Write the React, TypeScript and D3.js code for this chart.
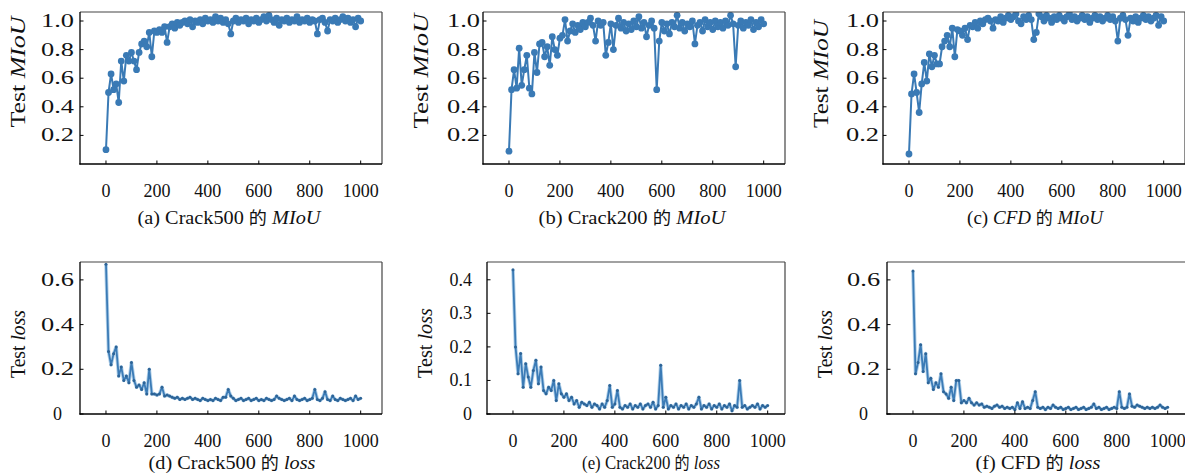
import { useEffect, useRef } from 'react';
import * as d3 from 'd3';

const EPOCH_STEP = 10;
const X_TICKS = [0, 200, 400, 600, 800, 1000];
const MIOU_TICKS = [0.2, 0.4, 0.6, 0.8, 1.0];
const LOSS_TICKS = [0, 0.2, 0.4, 0.6];
const LOSS_TICKS_200 = [0, 0.1, 0.2, 0.3, 0.4];

// test MIoU, one value every 10 epochs (0..1000)
const MIOU_CRACK500 = [
  0.10, 0.50, 0.63, 0.52, 0.56, 0.43, 0.72, 0.58, 0.76, 0.72,
  0.78, 0.72, 0.66, 0.78, 0.84, 0.86, 0.82, 0.92, 0.75, 0.93,
  0.92, 0.94, 0.92, 0.96, 0.85, 0.96, 0.98, 0.95, 0.99, 0.97,
  0.99, 1.00, 0.98, 1.01, 0.96, 1.00, 0.99, 1.01, 0.98, 1.02,
  1.00, 1.01, 0.99, 1.03, 1.00, 1.02, 0.99, 1.01, 0.98, 0.91,
  1.00, 1.02, 0.99, 1.01, 1.00, 1.02, 0.98, 1.01, 1.00, 1.02,
  0.99, 1.01, 1.03, 1.00, 1.04, 1.01, 0.99, 1.02, 0.97, 1.01,
  1.00, 1.02, 0.99, 1.01, 1.00, 1.03, 0.99, 1.01, 1.00, 1.02,
  0.99, 1.01, 1.00, 0.91, 1.01, 1.02, 0.99, 0.93, 1.01, 1.00,
  1.02, 0.99, 1.01, 1.03, 1.00, 1.02, 0.99, 1.01, 0.96, 1.02,
  1.00,
];

const MIOU_CRACK200 = [
  0.09, 0.52, 0.66, 0.53, 0.81, 0.55, 0.66, 0.76, 0.53, 0.49,
  0.78, 0.64, 0.84, 0.85, 0.75, 0.82, 0.69, 0.89, 0.80, 0.76,
  0.88, 0.90, 1.01, 0.86, 0.93, 0.98, 0.92, 0.97, 0.94, 0.99,
  0.96, 0.99, 1.02, 0.97, 0.86, 1.00, 0.97, 0.99, 0.76, 0.85,
  0.98, 0.80, 0.97, 1.02, 0.95, 0.99, 0.93, 0.98, 0.94, 1.00,
  0.96, 1.03, 0.95, 0.99, 0.89, 0.97, 1.00, 0.95, 0.52, 0.86,
  0.99, 0.93, 0.98, 0.91, 0.99, 0.96, 1.04, 0.95, 0.99, 0.93,
  0.98, 0.96, 1.00, 0.84, 0.97, 0.99, 0.93, 1.01, 0.96, 0.99,
  0.94, 1.00, 0.96, 0.99, 0.95, 1.00, 0.97, 1.04, 0.98, 0.68,
  0.97, 1.00, 0.95, 0.99, 0.97, 1.01, 0.94, 0.99, 0.96, 1.01,
  0.98,
];

const MIOU_CFD = [
  0.07, 0.49, 0.63, 0.50, 0.36, 0.56, 0.71, 0.58, 0.77, 0.68,
  0.76, 0.70, 0.70, 0.82, 0.86, 0.90, 0.82, 0.95, 0.75, 0.94,
  0.93, 0.90, 0.95, 0.87, 0.97, 0.96, 0.99, 0.95, 1.00, 0.98,
  1.01, 1.02, 1.00, 0.95, 1.01, 1.00, 1.03, 0.99, 1.02, 1.04,
  1.01, 1.03, 1.05, 1.00, 0.98, 1.03, 1.01, 1.04, 1.01, 0.87,
  0.92, 1.05, 1.03, 1.00, 1.04, 1.02, 0.99, 1.03, 1.01, 1.04,
  1.02, 1.00, 1.03, 1.05, 1.01, 1.03, 1.00, 1.02, 1.04, 1.01,
  1.03, 0.99, 1.02, 1.04, 1.01, 1.03, 1.00, 1.02, 1.04, 1.01,
  1.03, 1.00, 0.86, 1.02, 1.04, 1.01, 0.90, 1.02, 1.00, 1.03,
  0.99, 1.02, 1.04, 1.01, 1.03, 1.00, 1.02, 1.04, 0.97, 1.03,
  1.00,
];

// test loss, one value every 10 epochs (0..1000)
const LOSS_CRACK500 = [
  0.67, 0.28, 0.22, 0.27, 0.30, 0.17, 0.21, 0.15, 0.17, 0.14,
  0.23, 0.15, 0.12, 0.13, 0.11, 0.14, 0.09, 0.20, 0.09, 0.09,
  0.085, 0.09, 0.12, 0.08, 0.085, 0.08, 0.075, 0.07, 0.075, 0.065,
  0.07, 0.065, 0.07, 0.075, 0.065, 0.07, 0.065, 0.06, 0.07, 0.065,
  0.06, 0.065, 0.06, 0.07, 0.065, 0.06, 0.075, 0.075, 0.11, 0.08,
  0.07, 0.06, 0.065, 0.07, 0.06, 0.065, 0.07, 0.06, 0.065, 0.07,
  0.06, 0.065, 0.06, 0.07, 0.065, 0.06, 0.065, 0.08, 0.07, 0.065,
  0.06, 0.065, 0.07, 0.06, 0.08, 0.065, 0.06, 0.065, 0.07, 0.06,
  0.065, 0.07, 0.11, 0.065, 0.06, 0.07, 0.10, 0.065, 0.06, 0.08,
  0.065, 0.06, 0.07, 0.065, 0.06, 0.065, 0.07, 0.06, 0.08, 0.065,
  0.07,
];

const LOSS_CRACK200 = [
  0.43, 0.20, 0.12, 0.18, 0.08, 0.15, 0.11, 0.08, 0.13, 0.16,
  0.09, 0.14, 0.07, 0.06, 0.08, 0.07, 0.10, 0.04, 0.09, 0.06,
  0.05, 0.06, 0.04, 0.05, 0.03, 0.04, 0.02, 0.035, 0.03, 0.025,
  0.035, 0.02, 0.03, 0.025, 0.015, 0.03, 0.02, 0.04, 0.085, 0.02,
  0.03, 0.07, 0.02, 0.015, 0.025, 0.02, 0.03, 0.015, 0.025, 0.02,
  0.03, 0.015, 0.025, 0.03, 0.02, 0.035, 0.015, 0.025, 0.145, 0.02,
  0.05, 0.015, 0.025, 0.02, 0.03, 0.015, 0.025, 0.02, 0.03, 0.015,
  0.025, 0.02, 0.03, 0.05, 0.015, 0.025, 0.02, 0.03, 0.015, 0.025,
  0.02, 0.03, 0.015, 0.025, 0.02, 0.03, 0.01, 0.025, 0.02, 0.10,
  0.02, 0.025, 0.015, 0.02, 0.025, 0.02, 0.03, 0.015, 0.025, 0.02,
  0.025,
];

const LOSS_CFD = [
  0.64, 0.18, 0.23, 0.31, 0.19, 0.27, 0.14, 0.16, 0.11, 0.14,
  0.12, 0.18, 0.10, 0.09, 0.07, 0.12, 0.06, 0.15, 0.15, 0.05,
  0.06, 0.05, 0.07, 0.05, 0.04, 0.05, 0.04, 0.045, 0.03, 0.035,
  0.03, 0.025, 0.035, 0.04, 0.03, 0.035, 0.025, 0.03, 0.025, 0.03,
  0.02, 0.05, 0.025, 0.055, 0.025, 0.03, 0.025, 0.06, 0.10, 0.03,
  0.025, 0.03, 0.02, 0.03, 0.025, 0.04, 0.03, 0.025, 0.03, 0.02,
  0.025, 0.03, 0.02, 0.025, 0.03, 0.02, 0.025, 0.03, 0.02, 0.025,
  0.03, 0.045, 0.025, 0.03, 0.02, 0.025, 0.03, 0.02, 0.025, 0.03,
  0.025, 0.10, 0.03, 0.025, 0.03, 0.09, 0.035, 0.03, 0.04, 0.035,
  0.03, 0.025, 0.03, 0.025, 0.03, 0.025, 0.03, 0.04, 0.03, 0.025,
  0.03,
];

const FONT = '"Liberation Serif", "DejaVu Serif", serif';
const CJK_FONT = '"Noto Sans CJK SC", sans-serif';
const BLUE = '#3a7ab5';
const X_MIN = -102;
const PX_PER_EPOCH = 0.2547;

type Run = [string, 'r' | 'i' | 'cjk'];

// layout per sub-figure; tickDx > 0 => centred, wide tick labels; 0 => natural right-aligned
const PANELS = [
  { values: MIOU_CRACK500, ticks: MIOU_TICKS, yMax: 1.063, metric: 'MIoU', left: 80, top: 12, w: 302, h: 152,
    tickDx: 22.5, labY: 72, labLen: 111, capX: 229, capLen: 183,
    caption: [['(a) Crack500 ', 'r'], ['的', 'cjk'], [' ', 'r'], ['MIoU', 'i']] as Run[] },
  { values: MIOU_CRACK200, ticks: MIOU_TICKS, yMax: 1.063, metric: 'MIoU', left: 483, top: 12, w: 302, h: 152,
    tickDx: 19.5, labY: 71, labLen: 115, capX: 632, capLen: 187,
    caption: [['(b) Crack200 ', 'r'], ['的', 'cjk'], [' ', 'r'], ['MIoU', 'i']] as Run[] },
  { values: MIOU_CFD, ticks: MIOU_TICKS, yMax: 1.063, metric: 'MIoU', left: 883, top: 12, w: 302, h: 152,
    tickDx: 20.5, labY: 74, labLen: 108, capX: 1035, capLen: 136,
    caption: [['(c) ', 'r'], ['CFD', 'i'], [' ', 'r'], ['的', 'cjk'], [' ', 'r'], ['MIoU', 'i']] as Run[] },
  { values: LOSS_CRACK500, ticks: LOSS_TICKS, yMax: 0.68, metric: 'loss', left: 80, top: 262, w: 302, h: 152,
    tickDx: 22.5, labY: 344, labLen: 68, capX: 232, capLen: 167,
    caption: [['(d) Crack500 ', 'r'], ['的', 'cjk'], [' ', 'r'], ['loss', 'i']] as Run[] },
  { values: LOSS_CRACK200, ticks: LOSS_TICKS_200, yMax: 0.453, metric: 'loss', left: 487, top: 262, w: 298, h: 152,
    tickDx: 0, labY: 343, labLen: 70, capX: 651, capLen: 138,
    caption: [['(e) Crack200 ', 'r'], ['的', 'cjk'], [' ', 'r'], ['loss', 'i']] as Run[] },
  { values: LOSS_CFD, ticks: LOSS_TICKS, yMax: 0.68, metric: 'loss', left: 887, top: 262, w: 302, h: 152,
    tickDx: 23.4, labY: 344, labLen: 68, capX: 1038, capLen: 125,
    caption: [['(f) CFD ', 'r'], ['的', 'cjk'], [' ', 'r'], ['loss', 'i']] as Run[] },
];

const fmt = (v: number) => (v === 0 ? '0' : v.toFixed(1));

// stretch/squeeze a text horizontally (in its own frame) to a target width
const fit = (sel: any, target: number, pre: string) => {
  const n = sel.node().getComputedTextLength();
  const k = n > 0 ? target / n : 1;
  sel.attr('transform', `${pre} scale(${k},1)`);
};

const App = () => {
  const svgRef = useRef<SVGSVGElement>(null);

  useEffect(() => {
    if (!svgRef.current) return;
    const svg = d3.select(svgRef.current);
    svg.selectAll('*').remove();

    PANELS.forEach((p, idx) => {
      const isLoss = p.metric === 'loss';
      const x = d3.scaleLinear()
        .domain([X_MIN, X_MIN + p.w / PX_PER_EPOCH])
        .range([p.left, p.left + p.w]);
      const y = d3.scaleLinear().domain([0, p.yMax]).range([p.top + p.h, p.top]);
      const pts = p.values.map((v, i) => [i * EPOCH_STEP, v] as [number, number]);

      const g = svg.append('g');
      const clipId = `clip-${idx}`;
      g.append('clipPath').attr('id', clipId)
        .append('rect')
        .attr('x', p.left).attr('y', p.top).attr('width', p.w).attr('height', p.h);

      // DATA
      const plot = g.append('g').attr('clip-path', `url(#${clipId})`);
      const line = d3.line<[number, number]>().x(d => x(d[0])).y(d => y(d[1]));
      if (isLoss) {
        // soft halo like the blurred original
        plot.append('path')
          .attr('d', line(pts))
          .attr('fill', 'none')
          .attr('stroke', '#b4d2ea')
          .attr('stroke-width', 3.6)
          .attr('stroke-linejoin', 'round');
      }
      plot.append('path')
        .attr('d', line(pts))
        .attr('fill', 'none')
        .attr('stroke', isLoss ? '#3b7bb6' : BLUE)
        .attr('stroke-width', isLoss ? 1.8 : 2)
        .attr('stroke-linejoin', 'round');
      plot.selectAll('circle')
        .data(pts).join('circle')
        .attr('cx', d => x(d[0]))
        .attr('cy', d => y(d[1]))
        .attr('r', isLoss ? 1.5 : 3.4)
        .attr('fill', isLoss ? '#2d6497' : BLUE);

      // SPINES
      const r = p.left + p.w;
      const b = p.top + p.h;
      g.append('line').attr('x1', p.left).attr('x2', r).attr('y1', p.top).attr('y2', p.top)
        .attr('stroke', '#444').attr('stroke-width', 1.2);
      g.append('line').attr('x1', r).attr('x2', r).attr('y1', p.top).attr('y2', b)
        .attr('stroke', '#444').attr('stroke-width', 1.2);
      g.append('line').attr('x1', p.left).attr('x2', p.left).attr('y1', p.top).attr('y2', b + 0.6)
        .attr('stroke', '#000').attr('stroke-width', 1.3);
      g.append('line').attr('x1', p.left - 0.6).attr('x2', r).attr('y1', b).attr('y2', b)
        .attr('stroke', '#000').attr('stroke-width', 1.3);

      // X TICKS (inward)
      X_TICKS.forEach(t => {
        g.append('line').attr('x1', x(t)).attr('x2', x(t)).attr('y1', b).attr('y2', b - 3.5)
          .attr('stroke', '#000').attr('stroke-width', 1);
        g.append('text').attr('x', x(t)).attr('y', b + 33)
          .attr('text-anchor', 'middle')
          .style('font-family', FONT).style('font-size', '18px').style('fill', '#111')
          .text(t);
      });

      // Y TICKS (inward)
      p.ticks.forEach(t => {
        g.append('line').attr('x1', p.left).attr('x2', p.left + 3.5).attr('y1', y(t)).attr('y2', y(t))
          .attr('stroke', '#000').attr('stroke-width', 1);
        const label = fmt(t);
        const tx = g.append('text')
          .style('font-family', FONT).style('font-size', '18px').style('fill', '#111')
          .text(label);
        if (p.tickDx > 0) {
          tx.attr('text-anchor', 'middle');
          const pre = `translate(${p.left - p.tickDx},${y(t) + 6})`;
          if (label.length > 1) fit(tx, 33, pre);
          else tx.attr('transform', pre);
        } else {
          tx.attr('text-anchor', 'end').attr('x', p.left - 15).attr('y', y(t) + 6);
        }
      });

      // Y LABEL
      const yl = g.append('text')
        .attr('text-anchor', 'middle')
        .style('font-family', FONT).style('font-size', '20px').style('fill', '#111');
      yl.append('tspan').text('Test ');
      yl.append('tspan').style('font-style', 'italic').text(p.metric);
      fit(yl, p.labLen, `translate(${p.left - 55},${p.labY}) rotate(-90)`);

      // CAPTION
      const cap = g.append('text')
        .attr('text-anchor', 'middle')
        .style('font-family', FONT).style('font-size', '19px').style('fill', '#111');
      p.caption.forEach(([txt, kind]) => {
        const ts = cap.append('tspan').text(txt);
        if (kind === 'i') ts.style('font-style', 'italic');
        if (kind === 'cjk') ts.style('font-family', CJK_FONT).style('font-size', '17px');
      });
      fit(cap, p.capLen, `translate(${p.capX},${isLoss ? b + 55 : b + 60})`);
    });
  }, []);

  return (
    <div style={{ position: 'absolute', left: 0, top: 0, width: 1185, height: 475, background: '#fff' }}>
      <svg ref={svgRef} width={1185} height={475} style={{ display: 'block' }} />
    </div>
  );
};

export default App;
